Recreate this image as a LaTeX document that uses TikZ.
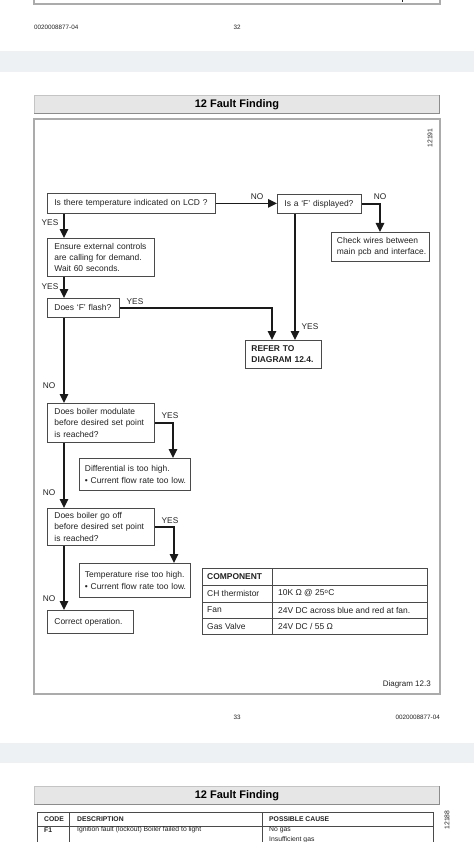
\documentclass[tikz,border=0pt]{standalone}
\usepackage{fontspec}
\setmainfont{Liberation Sans}
\usetikzlibrary{arrows.meta}
\definecolor{txt}{HTML}{222222}
\definecolor{boxc}{HTML}{4A4A4A}
\definecolor{framec}{HTML}{ABABAB}
\definecolor{band}{HTML}{EEF1F4}
\definecolor{barfill}{HTML}{E6E6E6}
\definecolor{barline}{HTML}{C4C4C4}
\definecolor{shadow}{HTML}{8C8C8C}
\definecolor{linec}{HTML}{1A1A1A}
\newcommand\fsz{\fontsize{8.45}{11.3}\selectfont}
\newcommand\lsz{\fontsize{8.3}{10}\selectfont}
\newcommand\ssz{\fontsize{6.3}{7.5}\selectfont}
\newcommand\tsz{\fontsize{6.8}{8.2}\selectfont}
\newcommand\oneln[1]{\mbox{#1}}
\tikzset{
  box/.style={draw=boxc, line width=0.8pt, anchor=north west, inner xsep=7pt, inner ysep=0pt, align=left, font=\fsz, text=txt},
  lab/.style={font=\lsz, text=txt, inner sep=0pt},
  arr/.style={draw=linec, line width=1.3pt, -{Triangle[width=8.5pt,length=9pt]}},
  frame/.style={draw=framec, line width=1.1pt},
  bar/.style={fill=barfill, draw=barline, line width=0.6pt},
  shad/.style={draw=shadow, line width=1.6pt},
  tbl/.style={draw=boxc, line width=0.8pt},
  cell/.style={font=\fsz, text=txt, inner sep=0pt, anchor=west},
  small/.style={font=\ssz, text=txt, inner sep=0pt},
  tcell/.style={font=\tsz, text=txt, inner sep=0pt, anchor=west},
  ttl/.style={font=\fontsize{11}{13}\selectfont\bfseries, text=black, inner sep=0pt}
}
\begin{document}
\begin{tikzpicture}[x=1pt,y=-1pt]
\useasboundingbox (0,0) rectangle (474,842);
\clip (0,0) rectangle (474,842);
\fill[white] (0,0) rectangle (474,842);
% remnant of previous page frame
\draw[frame] (34,-3) -- (34,4) -- (440,4) -- (440,-3);
\draw[txt, line width=0.9pt] (402,0) -- (402,2.5);
% footer page 32
\node[small, anchor=west] (foot1) at (34,27) {0020008877-04};
\node[small] (pg32) at (237,27) {32};
% band
\fill[band] (0,51) rectangle (474,72);
% title bar
\draw[bar] (34,95) rectangle (439,113);
\draw[shad] (34,113.5) -- (439.5,113.5) -- (439.5,95);
\node[ttl] (title1) at (237,104.5) {12 Fault Finding};
% main frame
\draw[frame] (34,119) rectangle (440,694);
\node[small, rotate=90, font=\tsz] (ref1) at (430,138) {12191};
% flowchart boxes
\node[box, text width=154pt, minimum height=20pt] (b1) at (47,193) {\oneln{Is there temperature indicated on LCD ?}};
\node[box, text width=93pt, minimum height=38pt] (b2) at (47,238) {\oneln{Ensure external controls}\\\oneln{are calling for demand.}\\\oneln{Wait 60 seconds.}};
\node[box, text width=58pt, minimum height=19pt] (b3) at (47,298) {\oneln{Does `F' flash?}};
\node[box, text width=70pt, minimum height=19pt] (b4) at (277,194) {\oneln{Is a `F' displayed?}};
\node[box, text width=87pt, minimum height=29pt, inner xsep=5.5pt] (b5) at (331,232) {\oneln{Check wires between}\\\oneln{main pcb and interface.}};
\node[box, text width=64pt, minimum height=28pt, inner xsep=6pt, font=\fsz\bfseries] (b6) at (245,340) {\oneln{REFER TO}\\\oneln{DIAGRAM 12.4.}};
\node[box, text width=93pt, minimum height=39pt] (b7) at (47,403) {\oneln{Does boiler modulate}\\\oneln{before desired set point}\\\oneln{is reached?}};
\node[box, text width=100pt, minimum height=32pt, inner xsep=5.5pt] (b8) at (79,458) {\oneln{Differential is too high.}\\\oneln{• Current flow rate too low.}};
\node[box, text width=93pt, minimum height=37pt] (b9) at (47,508) {\oneln{Does boiler go off}\\\oneln{before desired set point}\\\oneln{is reached?}};
\node[box, text width=100pt, minimum height=34pt, inner xsep=5.5pt] (b10) at (79,563) {\oneln{Temperature rise too high.}\\\oneln{• Current flow rate too low.}};
\node[box, text width=72pt, minimum height=23pt] (b11) at (47,610) {\oneln{Correct operation.}};
% connectors
\draw[arr] ([xshift=17pt]b1.south west) -- ([xshift=17pt]b2.north west);
\draw[arr] ([xshift=17pt]b2.south west) -- ([xshift=17pt]b3.north west);
\draw[arr] ([xshift=17pt]b3.south west) -- ([xshift=17pt]b7.north west);
\draw[arr] ([xshift=17pt]b7.south west) -- ([xshift=17pt]b9.north west);
\draw[arr] ([xshift=17pt]b9.south west) -- ([xshift=17pt]b11.north west);
\draw[arr] (b1.east) -- (b1.east -| b4.west);
\draw[arr] (b4.east) -| ([xshift=49pt]b5.north west);
\coordinate (f4) at ([xshift=18pt]b4.south west);
\draw[arr] (f4) -- (f4 |- b6.north);
\draw[arr] (b3.east) -| ([xshift=27pt]b6.north west);
\draw[arr] (b7.east) -| ([xshift=94pt]b8.north west);
\draw[arr] (b9.east) -| ([xshift=95pt]b10.north west);
% labels
\node[lab] (y1) at (50,223) {YES};
\node[lab] (y2) at (50,287) {YES};
\node[lab] (y3) at (135,302) {YES};
\node[lab] (n1) at (257,197) {NO};
\node[lab] (n2) at (380,197) {NO};
\node[lab] (y4) at (310,327) {YES};
\node[lab] (n3) at (49,386) {NO};
\node[lab] (y5) at (170,416) {YES};
\node[lab] (n4) at (49,493) {NO};
\node[lab] (y6) at (170,521) {YES};
\node[lab] (n5) at (49,599) {NO};
% component table
\draw[tbl] (202,568) rectangle (427,634);
\draw[tbl] (202,585) -- (427,585);
\draw[tbl] (202,602) -- (427,602);
\draw[tbl] (202,618) -- (427,618);
\draw[tbl] (272,568) -- (272,634);
\node[cell, font=\fsz\bfseries] (c1) at (207,577) {COMPONENT};
\node[cell] (c2) at (207,593.5) {CH thermistor};
\node[cell] (c3) at (207,610) {Fan};
\node[cell] (c4) at (207,626) {Gas Valve};
\node[cell] (d2) at (278,593.5) {10K Ω @ 25\textsuperscript{o}C};
\node[cell] (d3) at (278,610) {24V DC across blue and red at fan.};
\node[cell] (d4) at (278,626) {24V DC / 55 Ω};
\node[cell, anchor=east, font=\fontsize{8}{10}\selectfont] (dg) at (431,684) {Diagram 12.3};
% footer page 33
\node[small] (pg33) at (237,717) {33};
\node[small, anchor=east] (foot2) at (440,717) {0020008877-04};
% band
\fill[band] (0,743) rectangle (474,763);
% title bar 2
\draw[bar] (34,786) rectangle (439,804);
\draw[shad] (34,804.5) -- (439.5,804.5) -- (439.5,786);
\node[ttl] (title2) at (237,795.5) {12 Fault Finding};
% fault table
\draw[tbl] (37,860) -- (37,812) -- (433,812) -- (433,860);
\draw[tbl] (37,826) -- (433,826);
\draw[tbl] (69,812) -- (69,860);
\draw[tbl] (262,812) -- (262,860);
\node[tcell, font=\tsz\bfseries] (h1) at (44,819.5) {CODE};
\node[tcell, font=\tsz\bfseries] (h2) at (77,819.5) {DESCRIPTION};
\node[tcell, font=\tsz\bfseries] (h3) at (269,819.5) {POSSIBLE CAUSE};
\node[tcell, font=\tsz\bfseries] (r1) at (44,830) {F1};
\node[tcell] (r2) at (77,830) {Ignition fault (lockout) Boiler failed to light};
\node[tcell] (r3) at (269,830) {No gas};
\node[tcell] (r4) at (269,840) {Insufficient gas};
\node[small, rotate=90, font=\tsz] (ref2) at (447,820) {12188};
\end{tikzpicture}
\end{document}
